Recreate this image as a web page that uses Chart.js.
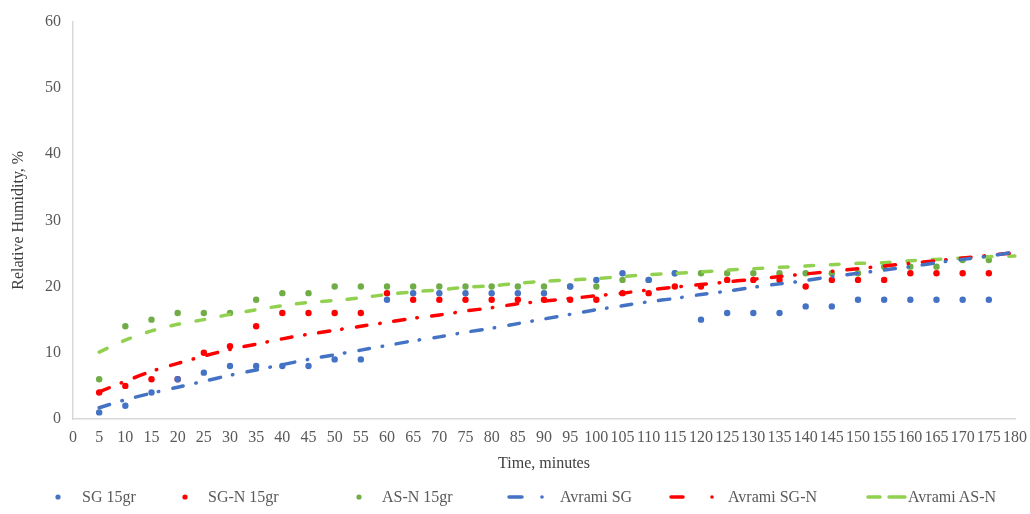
<!DOCTYPE html>
<html>
<head>
<meta charset="utf-8">
<script src="https://cdn.jsdelivr.net/npm/chart.js@4.4.1/dist/chart.umd.min.js"></script>
<style>
  body { margin: 0; background: #fff; }
  #wrap { position: relative; width: 1030px; height: 514px; }
  #legend { position: absolute; left: 0; top: 486px; width: 1030px; height: 22px;
    font: 16px "Liberation Serif", "Times New Roman", serif; color: #595959; }
  .item { position: absolute; top: 0; height: 22px; display: flex; align-items: center; white-space: nowrap; }
  .item svg { display: block; }
</style>
</head>
<body>
<div id="wrap">
  <canvas id="chart" width="1030" height="514"></canvas>
  <div id="legend"></div>
</div>
<script>
const times = ["0","5","10","15","20","25","30","35","40","45","50","55","60","65","70","75","80","85","90",
  "95","100","105","110","115","120","125","130","135","140","145","150","155","160","165","170","175","180"];

// measured points
const sg15  = [null,1,2,4,6,7,8,8,8,8,9,9,18,19,19,19,19,19,19,20,21,22,21,22,15,16,16,16,17,17,18,18,18,18,18,18,null];
const sgN15 = [null,4,5,6,6,10,11,14,16,16,16,16,19,18,18,18,18,18,18,18,18,19,19,20,20,21,21,21,20,21,21,21,22,22,22,22,null];
const asN15 = [null,6,14,15,16,16,16,18,19,19,20,20,20,20,20,20,20,20,20,20,20,21,21,22,22,22,22,22,22,22,22,23,23,23,24,24,null];

// Avrami fits
const avramiSG  = [null,1.7,2.9,3.9,4.8,5.7,6.6,7.4,8.2,9.0,9.7,10.4,11.1,11.8,12.4,13.1,13.7,14.4,15.1,15.8,16.5,
  17.1,17.7,18.2,18.8,19.3,19.9,20.4,20.9,21.5,22.0,22.5,23.0,23.6,24.1,24.6,25.2];
const avramiSGN = [null,4.1,5.7,7.2,8.4,9.5,10.5,11.3,12.1,12.8,13.4,14.0,14.6,15.2,15.7,16.3,16.8,17.4,17.8,18.2,18.6,
  19.0,19.5,19.9,20.3,20.7,21.1,21.5,21.9,22.3,22.7,23.1,23.5,23.9,24.3,24.7,25.1];
const avramiASN = [null,10.1,11.9,13.3,14.3,15.0,15.8,16.5,17.1,17.6,17.9,18.3,18.8,19.2,19.5,19.9,20.1,20.5,20.8,21.0,21.2,
  21.5,21.8,22.0,22.2,22.5,22.7,22.9,23.1,23.3,23.5,23.6,23.9,24.1,24.3,24.5,24.6];

const BLUE = "#4472c4", RED = "#ff0000", GREEN = "#70ad47", LGREEN = "#92d050";
const FONT = "'Liberation Serif', 'Times New Roman', serif";

function dots(label, data, color) {
  return { label, data, borderColor: color, backgroundColor: color, showLine: false,
    pointRadius: 3.2, pointHoverRadius: 3.2, pointBorderWidth: 0, order: 2 };
}
function fit(label, data, color, dash) {
  return { label, data, borderColor: color, backgroundColor: color, borderWidth: 3.5,
    borderDash: dash, borderCapStyle: "round", pointRadius: 0, tension: 0.3, fill: false, order: 1 };
}

new Chart(document.getElementById("chart"), {
  type: "line",
  data: {
    labels: times,
    datasets: [
      dots("SG 15gr", sg15, BLUE),
      dots("SG-N 15gr", sgN15, RED),
      dots("AS-N 15gr", asN15, GREEN),
      fit("Avrami SG", avramiSG, BLUE, [11, 12.5, 0.5, 14]),
      fit("Avrami SG-N", avramiSGN, RED, [11, 12.5, 0.5, 14]),
      fit("Avrami AS-N", avramiASN, LGREEN, [9, 16.5]),
    ],
  },
  options: {
    responsive: false,
    animation: false,
    layout: { padding: { left: 0, right: 15, top: 17, bottom: 35 } },
    plugins: { legend: { display: false }, tooltip: { enabled: false } },
    scales: {
      x: {
        offset: false,
        grid: { display: false, drawTicks: false },
        border: { display: true, color: "#d9d9d9", width: 1.5 },
        ticks: { autoSkip: false, maxRotation: 0, padding: 9, color: "#595959", font: { family: FONT, size: 16 } },
        title: { display: true, text: "Time, minutes", color: "#404040", padding: { top: 2, bottom: 6 },
          font: { family: FONT, size: 16 } },
        afterFit: (s) => { s.height = 60; s.paddingRight = 0; s.paddingLeft = 0; },
      },
      y: {
        min: 0, max: 60,
        grid: { display: false, drawTicks: false },
        border: { display: true, color: "#d9d9d9", width: 1.5 },
        ticks: { stepSize: 10, padding: 12, color: "#595959", font: { family: FONT, size: 16 } },
        title: { display: true, text: "Relative Humidity, %", color: "#404040", padding: { top: 9, bottom: 0 },
          font: { family: FONT, size: 16 } },
        afterFit: (s) => { s.width = 73; },
      },
    },
  },
});

// legend
const legendItems = [
  { left: 54, w: 28, icon: `<circle cx="4" cy="11" r="2.6" fill="${BLUE}"/>`, text: "SG 15gr" },
  { left: 181, w: 27, icon: `<circle cx="4" cy="11" r="2.6" fill="${RED}"/>`, text: "SG-N 15gr" },
  { left: 355, w: 27, icon: `<circle cx="4" cy="11" r="2.6" fill="${GREEN}"/>`, text: "AS-N 15gr" },
  { left: 506, w: 54, icon: `<line x1="3" y1="11" x2="16" y2="11" stroke="${BLUE}" stroke-width="3.5" stroke-linecap="round"/><circle cx="36" cy="11" r="1.8" fill="${BLUE}"/>`, text: "Avrami SG" },
  { left: 668, w: 60, icon: `<line x1="3" y1="11" x2="15" y2="11" stroke="${RED}" stroke-width="3.5" stroke-linecap="round"/><circle cx="44" cy="11" r="1.8" fill="${RED}"/>`, text: "Avrami SG-N" },
  { left: 865, w: 43, icon: `<line x1="3" y1="11" x2="15" y2="11" stroke="${LGREEN}" stroke-width="3.5" stroke-linecap="round"/><line x1="24" y1="11" x2="40" y2="11" stroke="${LGREEN}" stroke-width="3.5" stroke-linecap="round"/>`, text: "Avrami AS-N" },
];
document.getElementById("legend").innerHTML = legendItems.map((it) => `
  <div class="item" style="left:${it.left}px"><svg width="${it.w}" height="22">${it.icon}</svg><span>${it.text}</span></div>`).join("");
</script>
</body>
</html>
